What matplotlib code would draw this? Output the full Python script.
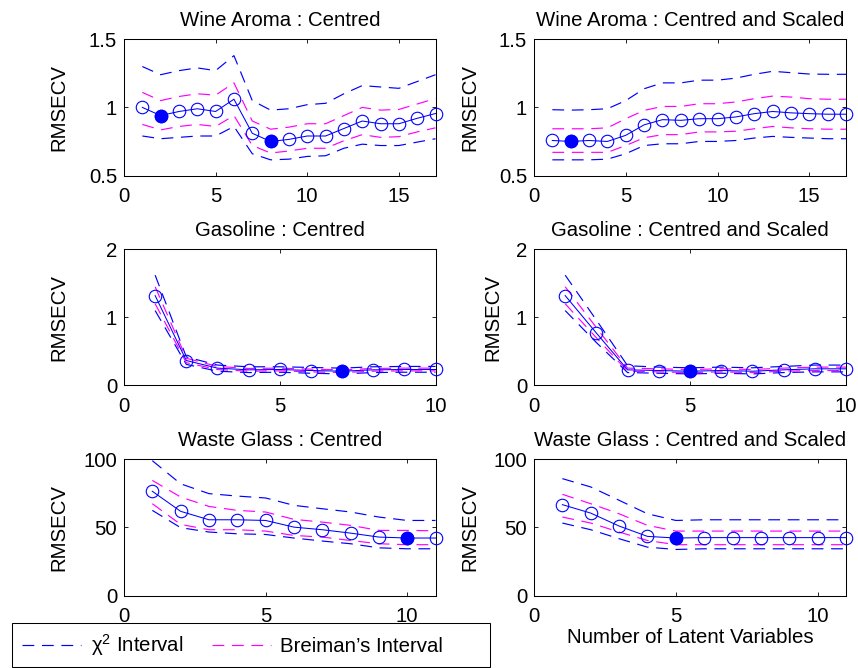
import numpy as np
import matplotlib
matplotlib.use("Agg")
import matplotlib.pyplot as plt
from matplotlib.lines import Line2D
from matplotlib.patches import Rectangle
from matplotlib.ticker import FormatStrFormatter

plt.rcParams['font.family'] = ['Liberation Sans', 'DejaVu Sans']
plt.rcParams['mathtext.fontset'] = 'custom'
plt.rcParams['mathtext.rm'] = 'Liberation Sans'
plt.rcParams['mathtext.it'] = 'Liberation Sans'
plt.rcParams['lines.scale_dashes'] = False

# ---- Wine Aroma, centred ----
wine_c_cv     = [1.00, 0.94, 0.97, 0.99, 0.97, 1.06, 0.81, 0.75, 0.765, 0.79, 0.79, 0.845, 0.90, 0.88, 0.88, 0.92, 0.955]
wine_c_chi_up = [1.30, 1.24, 1.27, 1.29, 1.27, 1.38, 1.05, 0.98, 0.99, 1.02, 1.03, 1.10, 1.16, 1.15, 1.14, 1.19, 1.24]
wine_c_chi_lo = [0.79, 0.77, 0.78, 0.79, 0.79, 0.86, 0.66, 0.615, 0.62, 0.64, 0.645, 0.70, 0.73, 0.72, 0.72, 0.745, 0.77]
wine_c_br_up  = [1.11, 1.05, 1.08, 1.10, 1.09, 1.18, 0.90, 0.84, 0.855, 0.88, 0.88, 0.94, 1.00, 0.98, 0.985, 1.025, 1.065]
wine_c_br_lo  = [0.875, 0.835, 0.86, 0.875, 0.86, 0.94, 0.72, 0.665, 0.68, 0.70, 0.70, 0.755, 0.80, 0.78, 0.785, 0.82, 0.85]
wine_c_best   = [2, 8]

# ---- Wine Aroma, centred and scaled ----
wine_s_cv     = [0.757, 0.75, 0.757, 0.75, 0.795, 0.872, 0.91, 0.905, 0.917, 0.917, 0.93, 0.954, 0.97, 0.96, 0.954, 0.95, 0.95]
wine_s_chi_up = [0.983, 0.98, 0.983, 0.99, 1.05, 1.137, 1.18, 1.18, 1.20, 1.20, 1.215, 1.243, 1.265, 1.255, 1.245, 1.243, 1.243]
wine_s_chi_lo = [0.615, 0.615, 0.615, 0.62, 0.66, 0.72, 0.733, 0.733, 0.75, 0.75, 0.757, 0.775, 0.787, 0.78, 0.775, 0.77, 0.77]
wine_s_br_up  = [0.843, 0.843, 0.843, 0.85, 0.917, 0.978, 1.007, 1.007, 1.027, 1.027, 1.04, 1.064, 1.083, 1.076, 1.064, 1.06, 1.06]
wine_s_br_lo  = [0.67, 0.67, 0.67, 0.67, 0.72, 0.777, 0.80, 0.80, 0.82, 0.82, 0.825, 0.843, 0.86, 0.85, 0.843, 0.84, 0.84]
wine_s_best   = [2]

# ---- Gasoline, centred ----
gas_c_cv     = [1.32, 0.367, 0.255, 0.23, 0.235, 0.22, 0.21, 0.23, 0.235, 0.235]
gas_c_chi_up = [1.62, 0.42, 0.30, 0.275, 0.275, 0.265, 0.255, 0.275, 0.28, 0.28]
gas_c_chi_lo = [1.10, 0.31, 0.21, 0.19, 0.195, 0.18, 0.17, 0.19, 0.195, 0.195]
gas_c_br_up  = [1.45, 0.40, 0.28, 0.25, 0.255, 0.24, 0.23, 0.25, 0.255, 0.255]
gas_c_br_lo  = [1.20, 0.335, 0.235, 0.21, 0.215, 0.20, 0.19, 0.21, 0.215, 0.215]
gas_c_best   = [7]

# ---- Gasoline, centred and scaled ----
gas_s_cv     = [1.32, 0.77, 0.23, 0.22, 0.21, 0.22, 0.21, 0.23, 0.245, 0.245]
gas_s_chi_up = [1.62, 0.96, 0.29, 0.27, 0.26, 0.27, 0.26, 0.28, 0.30, 0.30]
gas_s_chi_lo = [1.10, 0.63, 0.19, 0.18, 0.17, 0.18, 0.17, 0.19, 0.20, 0.20]
gas_s_br_up  = [1.45, 0.85, 0.255, 0.245, 0.235, 0.245, 0.235, 0.255, 0.27, 0.27]
gas_s_br_lo  = [1.20, 0.70, 0.21, 0.20, 0.19, 0.20, 0.19, 0.21, 0.22, 0.22]
gas_s_best   = [5]

# ---- Waste Glass, centred ----
glass_c_cv     = [76.5, 61.8, 55.6, 55.6, 55.1, 50.2, 48.3, 45.8, 42.9, 42.2, 42.2]
glass_c_chi_up = [99.0, 82.0, 74.8, 73.0, 71.6, 66.2, 63.7, 61.3, 57.6, 55.1, 55.1]
glass_c_chi_lo = [62.5, 49.8, 46.6, 45.3, 44.8, 42.2, 40.0, 38.0, 35.0, 34.3, 34.3]
glass_c_br_up  = [84.5, 72.3, 65.4, 62.5, 61.3, 55.9, 53.9, 51.5, 47.8, 47.8, 47.5]
glass_c_br_lo  = [67.4, 52.2, 48.3, 48.3, 47.3, 44.1, 42.9, 40.4, 38.0, 37.3, 37.3]
glass_c_best   = [10]

# ---- Waste Glass, centred and scaled ----
glass_s_cv     = [66.7, 60.5, 51.0, 43.4, 42.2, 42.5, 42.5, 42.5, 42.5, 42.5, 42.5]
glass_s_chi_up = [85.8, 79.7, 69.9, 60.0, 55.1, 55.6, 55.6, 55.6, 55.6, 55.6, 55.6]
glass_s_chi_lo = [53.2, 48.3, 41.7, 35.5, 33.8, 34.3, 34.3, 34.3, 34.3, 34.3, 34.3]
glass_s_br_up  = [74.3, 67.4, 60.0, 51.5, 47.3, 47.3, 47.3, 47.3, 47.3, 47.3, 47.3]
glass_s_br_lo  = [57.6, 53.2, 46.6, 40.4, 37.3, 37.3, 37.3, 37.3, 37.3, 37.3, 37.3]
glass_s_best   = [5]

titles = ["Wine Aroma : Centred", "Wine Aroma : Centred and Scaled",
          "Gasoline : Centred", "Gasoline : Centred and Scaled",
          "Waste Glass : Centred", "Waste Glass : Centred and Scaled"]

panels = [
    (wine_c_cv, wine_c_chi_up, wine_c_chi_lo, wine_c_br_up, wine_c_br_lo, wine_c_best),
    (wine_s_cv, wine_s_chi_up, wine_s_chi_lo, wine_s_br_up, wine_s_br_lo, wine_s_best),
    (gas_c_cv, gas_c_chi_up, gas_c_chi_lo, gas_c_br_up, gas_c_br_lo, gas_c_best),
    (gas_s_cv, gas_s_chi_up, gas_s_chi_lo, gas_s_br_up, gas_s_br_lo, gas_s_best),
    (glass_c_cv, glass_c_chi_up, glass_c_chi_lo, glass_c_br_up, glass_c_br_lo, glass_c_best),
    (glass_s_cv, glass_s_chi_up, glass_s_chi_lo, glass_s_br_up, glass_s_br_lo, glass_s_best),
]

row_xlim = [17, 10, 11]
row_xticks = [[0, 5, 10, 15], [0, 5, 10], [0, 5, 10]]
row_ylim = [(0.5, 1.5), (0, 2), (0, 100)]
row_yticks = [[0.5, 1, 1.5], [0, 1, 2], [0, 50, 100]]

# y-label offsets (axes fraction) for each panel
ylabel_x = [-0.18, -0.176, -0.18, -0.10, -0.18, -0.176]

FS = 14.7
DASH = (0, (8.5, 5.5))
DASH_LW = 0.85
BLUE = '#0000ff'
MAGENTA = '#ff00ff'

W, H = 858, 668
fig = plt.figure(figsize=(W / 100, H / 100), dpi=100)


def add_px_axes(left, top, right, bottom):
    return fig.add_axes([left / W, 1 - bottom / H, (right - left) / W, (bottom - top) / H])


col_lr = [(124, 435.5), (534, 846)]
row_tb = [(39.3, 175.5), (249.3, 385.5), (459.3, 595.5)]

for i, (cv, chi_up, chi_lo, br_up, br_lo, best) in enumerate(panels):
    r, c = divmod(i, 2)
    ax = add_px_axes(col_lr[c][0], row_tb[r][0], col_lr[c][1], row_tb[r][1])
    x = np.arange(1, len(cv) + 1)
    ax.plot(x, chi_up, color=BLUE, ls=DASH, lw=DASH_LW)
    ax.plot(x, chi_lo, color=BLUE, ls=DASH, lw=DASH_LW)
    ax.plot(x, br_up, color=MAGENTA, ls=DASH, lw=DASH_LW)
    ax.plot(x, br_lo, color=MAGENTA, ls=DASH, lw=DASH_LW)
    ax.plot(x, cv, color=BLUE, lw=0.75, marker='o', ms=9, mfc='none', mec=BLUE, mew=0.8,
            clip_on=False, zorder=3)
    bx = np.array(best)
    ax.plot(bx, np.asarray(cv)[bx - 1], ls='none', marker='o', ms=9, mfc=BLUE, mec=BLUE,
            mew=0.8, clip_on=False, zorder=4)

    ax.set_xlim(0, row_xlim[r])
    ax.set_ylim(*row_ylim[r])
    ax.set_xticks(row_xticks[r])
    ax.set_yticks(row_yticks[r])
    ax.yaxis.set_major_formatter(FormatStrFormatter('%g'))
    ax.tick_params(direction='in', top=True, right=True, length=3, width=0.6,
                   labelsize=FS, colors='black')
    ax.tick_params(axis='x', pad=8)
    ax.tick_params(axis='y', pad=5)
    for s in ax.spines.values():
        s.set_linewidth(0.75)
    ax.set_title(titles[i], fontsize=FS, pad=9.5)
    ax.set_ylabel('RMSECV', fontsize=FS)
    ax.yaxis.set_label_coords(ylabel_x[i], 0.5)
    if i == 5:
        ax.set_xlabel('Number of Latent Variables', fontsize=FS, labelpad=2)

# legend box spanning under the left column
fig.patches.append(Rectangle((12 / W, 1 - 667 / H), (490 - 12) / W, (667 - 622.7) / H,
                             transform=fig.transFigure, fill=False, edgecolor='black',
                             linewidth=0.75))
handles = [Line2D([], [], color=BLUE, ls=DASH, lw=DASH_LW),
           Line2D([], [], color=MAGENTA, ls=DASH, lw=DASH_LW)]
fig.legend(handles, [r'χ$^{2}$ Interval', "Breiman’s Interval"], loc='center left',
           bbox_to_anchor=(14 / W, 1 - 645 / H), ncol=2, frameon=False, fontsize=FS,
           handlelength=2.9, handletextpad=0.45, columnspacing=1.4, borderaxespad=0,
           borderpad=0.4)

fig.savefig('out.png', dpi=100)
